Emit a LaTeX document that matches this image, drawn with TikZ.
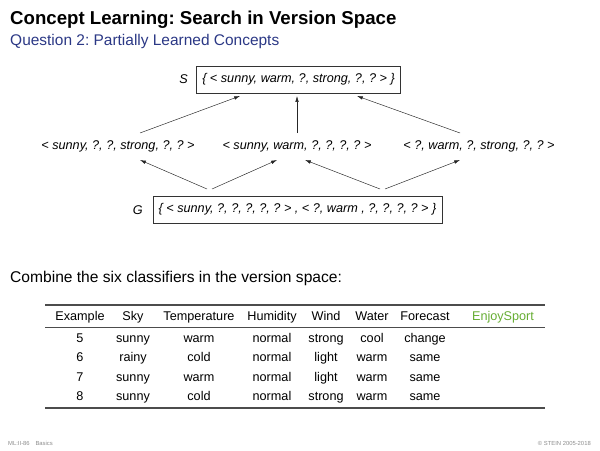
\documentclass[tikz,border=0pt]{standalone}
\usepackage{fontspec}
\setmainfont{Liberation Sans}
\usepackage{xcolor}
\definecolor{slideBlue}{rgb}{0.17, 0.22, 0.52}
\definecolor{sportGreen}{rgb}{0.40, 0.68, 0.20}
\definecolor{footGray}{rgb}{0.55, 0.55, 0.55}
\usetikzlibrary{arrows.meta}
\frenchspacing

\tikzset{
  hyp/.style={font=\fontsize{10.8}{13}\selectfont\itshape, anchor=base},
  setbox/.style={draw=black!80, thin, font=\fontsize{10.8}{13}\selectfont\itshape, inner xsep=5pt, minimum height=0.8cm},
  cell/.style={font=\fontsize{10.8}{13}\selectfont, anchor=base},
  arr/.style={-{Latex[length=5pt, width=3pt]}, black!85, thin}
}

\begin{document}
\begin{tikzpicture}[x=0.03cm, y=-0.03cm, every node/.style={inner sep=0pt}]
	\useasboundingbox (0,0) rectangle (600,450);
	% heading
	\node[anchor=base west, font=\fontsize{15.9}{18}\selectfont\bfseries] (title) at (10,25) {Concept Learning: Search in Version Space};
	\node[anchor=base west, font=\fontsize{13.2}{15}\selectfont, slideBlue] (subtitle) at (10,46) {Question 2: Partially Learned Concepts};

	% version space
	\node[setbox] (S) at (298.5,79.5) {\{ < sunny, warm, ?, strong, ?, ? > \}};
	\node[hyp, anchor=east] (Slabel) at (188,79.5) {S};
	\node[hyp] (hL) at (118,149) {< sunny, ?, ?, strong, ?, ? >};
	\node[hyp] (hM) at (297,149) {< sunny, warm, ?, ?, ?, ? >};
	\node[hyp] (hR) at (479,149) {< ?, warm, ?, strong, ?, ? >};
	\node[setbox] (G) at (297.5,209.5) {\{ < sunny, ?, ?, ?, ?, ? > , < ?, warm , ?, ?, ?, ? > \}};
	\node[hyp, anchor=east] (Glabel) at (143,210) {G};

	\coordinate (sL) at (240,96);
	\coordinate (sM) at (297,96);
	\coordinate (sR) at (357,96);
	\coordinate (mL) at (140,133);
	\coordinate (mM) at (297,133);
	\coordinate (mR) at (460,133);
	\coordinate (bL) at (140,160);
	\coordinate (bML) at (277,160);
	\coordinate (bMR) at (305,160);
	\coordinate (bR) at (460,160);
	\coordinate (g1) at (207,189);
	\coordinate (g1r) at (212,189);
	\coordinate (g2) at (380,189);
	\coordinate (g2r) at (385,189);
	\draw[arr] (mL) -- (sL);
	\draw[arr] (mM) -- (sM);
	\draw[arr] (mR) -- (sR);
	\draw[arr] (g1) -- (bL);
	\draw[arr] (g1r) -- (bML);
	\draw[arr] (g2) -- (bMR);
	\draw[arr] (g2r) -- (bR);

	% examples
	\node[anchor=base west, font=\fontsize{13.3}{15}\selectfont] (combine) at (10,282) {Combine the six classifiers in the version space:};
	\coordinate (tl) at (45,305);
	\coordinate (tr) at (545,305);
	\coordinate (ml) at (45,327);
	\coordinate (mr) at (545,327);
	\coordinate (bl) at (45,408);
	\coordinate (br) at (545,408);
	\draw[black!70, line width=0.9pt] (tl) -- (tr);
	\draw[black!70, line width=0.5pt] (ml) -- (mr);
	\draw[black!70, line width=0.9pt] (bl) -- (br);
	\foreach \x/\h [count=\i] in {80/Example, 133/Sky, 199/Temperature, 272/Humidity, 326/Wind, 372/Water, 425/Forecast}
		\node[cell] (head\i) at (\x,320) {\h};
	\node[cell, sportGreen] (head8) at (503,320) {EnjoySport};
	\foreach \y/\e/\s/\t/\u/\w/\a/\f in {342/5/sunny/warm/normal/strong/cool/change,
	                                    361/6/rainy/cold/normal/light/warm/same,
	                                    381/7/sunny/warm/normal/light/warm/same,
	                                    400/8/sunny/cold/normal/strong/warm/same}
	{
		\node[cell] (ex\e) at (80,\y) {\e};
		\node[cell] (sky\e) at (133,\y) {\s};
		\node[cell] (temp\e) at (199,\y) {\t};
		\node[cell] (hum\e) at (272,\y) {\u};
		\node[cell] (wind\e) at (326,\y) {\w};
		\node[cell] (water\e) at (372,\y) {\a};
		\node[cell] (fore\e) at (425,\y) {\f};
	}

	% footer
	\node[anchor=base west, font=\fontsize{5}{6}\selectfont, footGray] (footL) at (8,445) {ML:II-86\quad Basics};
	\node[anchor=base east, font=\fontsize{5}{6}\selectfont, footGray] (footR) at (591,445) {© STEIN 2005-2018};
\end{tikzpicture}
\end{document}
